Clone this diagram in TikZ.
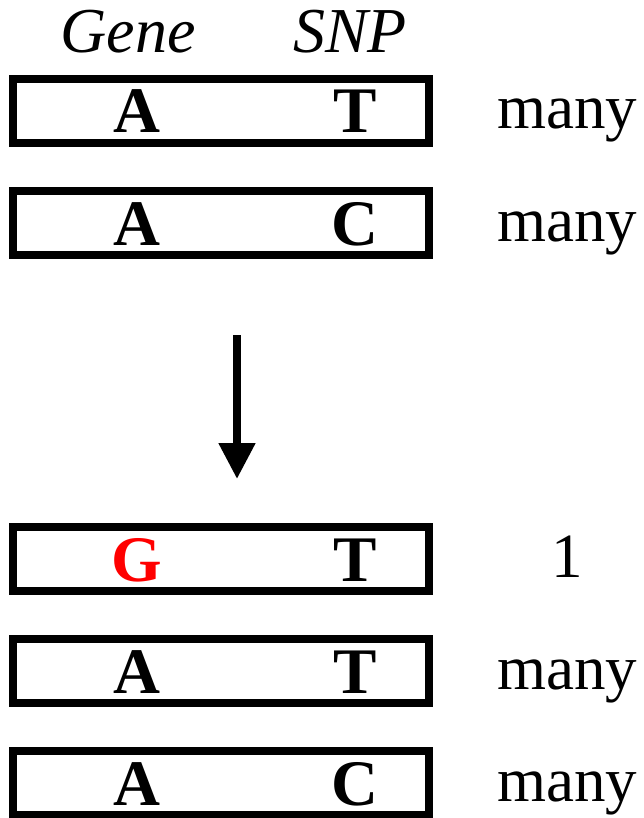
\documentclass[tikz,border=0pt]{standalone}
\usepackage{fontspec}
\setmainfont{Liberation Serif}
\usetikzlibrary{arrows.meta}
\begin{document}
\begin{tikzpicture}[x=1pt,y=-1pt,
  seqbox/.style={draw=black,line width=8pt,minimum width=416pt,minimum height=64pt,inner sep=0pt},
  base/.style={font=\fontsize{65}{78}\selectfont\bfseries,anchor=base,inner sep=0pt},
  count/.style={font=\fontsize{63}{76}\selectfont,anchor=base,inner sep=0pt},
  head/.style={font=\fontsize{64}{77}\selectfont\itshape,anchor=base,inner sep=0pt}]
\useasboundingbox (0,0) rectangle (643,818);
\node[head] (gene) at (128,53) {Gene};
\node[head] (snp) at (350,53) {SNP};
\foreach \n/\y/\g/\s/\c/\col in {b1/111/A/T/many/black, b2/223/A/C/many/black, b3/559/G/T/1/red, b4/671/A/T/many/black, b5/783/A/C/many/black}{
  \node[seqbox] (\n) at (221,\y) {};
  \node[base,text=\col] (\n g) at (137,\y+22) {\g};
  \node[base] (\n s) at (355,\y+22) {\s};
  \node[count] (\n c) at (567,\y+18) {\c};
}
\coordinate (astart) at (237,335);
\coordinate (aend) at (237,479);
\draw[line width=8pt,-{Triangle[length=36pt,width=35pt]}] (astart) -- (aend);
\end{tikzpicture}
\end{document}
